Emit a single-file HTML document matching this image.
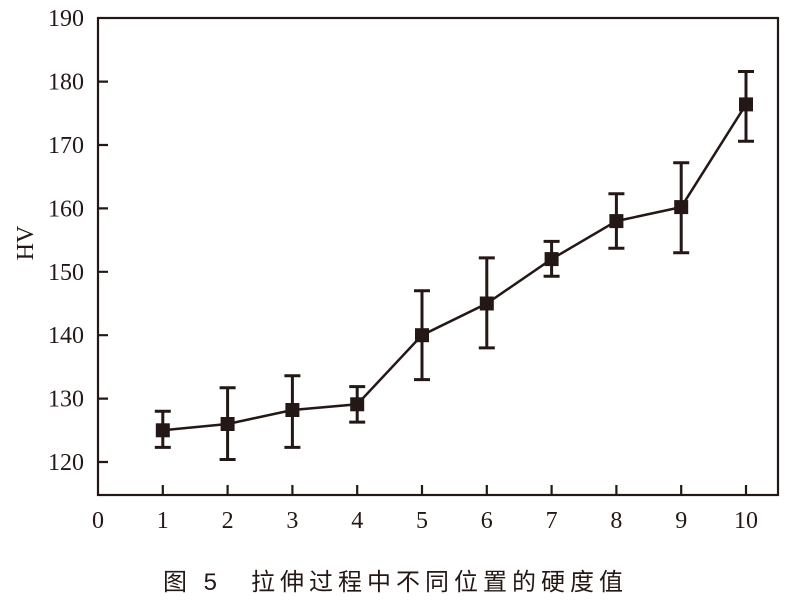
<!DOCTYPE html>
<html><head><meta charset="utf-8"><style>
body{margin:0;background:#fff;width:796px;height:603px;overflow:hidden}
svg text{font-family:"Liberation Serif","Noto Serif CJK SC",serif;fill:#231815}
</style></head><body>
<svg width="796" height="603" xmlns="http://www.w3.org/2000/svg">
<g stroke="#231815" stroke-width="2.2" fill="none">
<rect x="98" y="18" width="680" height="477"/>
<path d="M162.8 495v-10M227.6 495v-10M292.4 495v-10M357.2 495v-10M422 495v-10M486.8 495v-10M551.6 495v-10M616.4 495v-10M681.2 495v-10M746 495v-10"/>
<path d="M98 462h10M98 398.6h10M98 335.2h10M98 271.8h10M98 208.4h10M98 145h10M98 81.6h10"/>
<path stroke-width="2.5" d="M162.8 430.3L227.6 424L292.4 410L357.2 404.3L422 335.2L486.8 303.5L551.6 259.1L616.4 221.1L681.2 207.1L746 104.4"/>
</g>
<g stroke="#231815" stroke-width="3" fill="none">
<path d="M162.8 447.4V411.3M154.8 447.4h16M154.8 411.3h16"/>
<path d="M227.6 459.5V387.8M219.6 459.5h16M219.6 387.8h16"/>
<path d="M292.4 447.4V375.8M284.4 447.4h16M284.4 375.8h16"/>
<path d="M357.2 422.1V386.6M349.2 422.1h16M349.2 386.6h16"/>
<path d="M422 379.6V290.8M414 379.6h16M414 290.8h16"/>
<path d="M486.8 347.9V257.9M478.8 347.9h16M478.8 257.9h16"/>
<path d="M551.6 276.2V241.4M543.6 276.2h16M543.6 241.4h16"/>
<path d="M616.4 248.3V193.8M608.4 248.3h16M608.4 193.8h16"/>
<path d="M681.2 252.8V162.8M673.2 252.8h16M673.2 162.8h16"/>
<path d="M746 141.2V71.5M738 141.2h16M738 71.5h16"/>
</g>
<g fill="#231815">
<rect x="155.8" y="423.3" width="14" height="14"/>
<rect x="220.6" y="417" width="14" height="14"/>
<rect x="285.4" y="403" width="14" height="14"/>
<rect x="350.2" y="397.3" width="14" height="14"/>
<rect x="415" y="328.2" width="14" height="14"/>
<rect x="479.8" y="296.5" width="14" height="14"/>
<rect x="544.6" y="252.1" width="14" height="14"/>
<rect x="609.4" y="214.1" width="14" height="14"/>
<rect x="674.2" y="200.1" width="14" height="14"/>
<rect x="739" y="97.4" width="14" height="14"/>
</g>
<g font-size="24" text-anchor="middle">
<text x="98" y="528">0</text><text x="162.8" y="528">1</text><text x="227.6" y="528">2</text><text x="292.4" y="528">3</text><text x="357.2" y="528">4</text><text x="422" y="528">5</text><text x="486.8" y="528">6</text><text x="551.6" y="528">7</text><text x="616.4" y="528">8</text><text x="681.2" y="528">9</text><text x="746" y="528">10</text>
</g>
<g font-size="24" text-anchor="end">
<text x="84" y="470">120</text><text x="84" y="406.6">130</text><text x="84" y="343.2">140</text><text x="84" y="279.8">150</text><text x="84" y="216.4">160</text><text x="84" y="153">170</text><text x="84" y="89.6">180</text><text x="84" y="26.2">190</text>
</g>
<text transform="translate(33,243) rotate(-90)" font-size="24" text-anchor="middle">HV</text>
<text x="163" y="590" font-size="24" style="font-family:'Liberation Sans','Noto Sans CJK SC',sans-serif" letter-spacing="5">图 5　拉伸过程中不同位置的硬度值</text>
</svg>
</body></html>
